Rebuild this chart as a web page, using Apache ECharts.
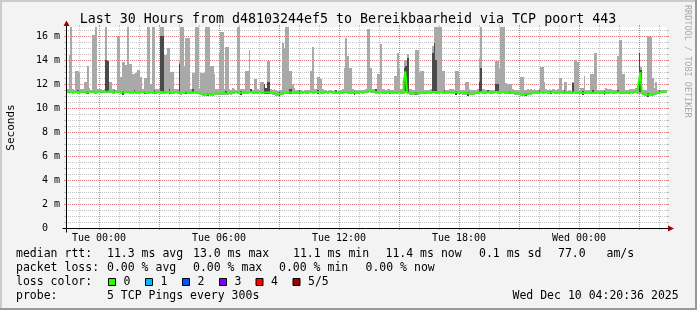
<!DOCTYPE html>
<html><head><meta charset="utf-8">
<script src="https://cdn.jsdelivr.net/npm/echarts@6/dist/echarts.min.js"></script>
<style>html,body{margin:0;padding:0;background:#f3f3f3}#c{width:697px;height:310px}</style>
</head><body><div id="c"></div><script>
// ---------------- data ----------------
const STEP = 5;          // minutes per sample (5 TCP pings every 300 s)
const T0 = -96;          // first sample, minutes relative to Tue 00:00
const SPAN = 1800;       // 30 hours
const Y_MAX = 16.75;     // ms
const titleText = 'Last 30 Hours from d48103244ef5 to Bereikbaarheid via TCP poort 443';
const xTickMinutes = [0, 360, 720, 1080, 1440];
const xTickLabels = ['Tue 00:00', 'Tue 06:00', 'Tue 12:00', 'Tue 18:00', 'Wed 00:00'];
const yTickValues = [0, 2, 4, 6, 8, 10, 12, 14, 16];

// median rtt (ms) per 5-minute sample
const medianVals = [
11.33,11.35,11.32,11.30,11.34,11.36,11.33,11.31,11.35,11.37,11.34,11.30,11.32,11.36,11.38,11.35,11.33,11.31,11.34,11.36,
11.38,11.40,11.36,11.34,11.37,11.39,11.35,11.33,11.30,11.34,11.37,11.35,11.32,11.30,11.33,11.36,11.34,11.31,11.29,11.32,
11.34,11.31,11.28,11.30,11.33,11.35,11.32,11.29,11.27,11.30,11.33,11.31,11.28,11.30,11.34,11.36,11.33,11.30,11.28,11.31,
11.33,11.35,11.32,11.29,11.31,11.34,11.30,11.27,11.25,11.28,11.31,11.33,11.30,11.27,11.29,11.32,11.34,11.31,11.28,11.24,
11.20,11.16,11.13,11.12,11.15,11.18,11.14,11.17,11.21,11.24,11.22,11.20,11.23,11.25,11.22,11.20,11.24,11.27,11.25,11.28,
11.30,11.33,11.31,11.28,11.30,11.32,11.29,11.27,11.30,11.33,11.35,11.32,11.30,11.28,11.31,11.34,11.32,11.29,11.27,11.30,
11.33,11.30,11.27,11.24,11.20,11.17,11.15,11.18,11.21,11.25,11.28,11.30,11.27,11.29,11.32,11.30,11.27,11.29,11.31,11.28,
11.30,11.32,11.34,11.31,11.29,11.33,11.35,11.32,11.30,11.33,11.36,11.34,11.31,11.29,11.32,11.34,11.31,11.33,11.35,11.32,
11.30,11.32,11.29,11.31,11.28,11.30,11.33,11.35,11.32,11.30,11.28,11.31,11.29,11.27,11.30,11.32,11.34,11.31,11.35,11.38,
11.40,11.42,11.39,11.37,11.34,11.31,11.29,11.32,11.34,11.31,11.28,11.30,11.33,11.31,11.28,11.30,11.32,11.29,11.31,11.33,
11.30,11.28,12.20,13.05,11.30,11.22,11.19,11.21,11.18,11.22,11.25,11.28,11.31,11.29,11.27,11.30,11.32,11.29,11.31,11.34,
11.37,11.33,11.30,11.32,11.35,11.33,11.30,11.28,11.31,11.33,11.30,11.32,11.34,11.31,11.29,11.26,11.28,11.25,11.23,11.22,
11.20,11.18,11.21,11.19,11.22,11.26,11.29,11.31,11.34,11.32,11.29,11.31,11.33,11.30,11.28,11.31,11.33,11.36,11.33,11.30,
11.32,11.35,11.33,11.30,11.28,11.31,11.29,11.26,11.24,11.22,11.20,11.18,11.16,11.14,11.17,11.15,11.18,11.21,11.24,11.27,
11.30,11.32,11.29,11.31,11.34,11.32,11.30,11.33,11.31,11.29,11.32,11.34,11.31,11.29,11.32,11.30,11.33,11.31,11.28,11.30,
11.32,11.29,11.27,11.30,11.33,11.31,11.28,11.30,11.27,11.25,11.28,11.30,11.27,11.29,11.26,11.28,11.31,11.29,11.27,11.30,
11.28,11.26,11.29,11.31,11.28,11.30,11.33,11.31,11.29,11.32,11.34,11.31,11.29,11.27,11.30,11.32,11.30,11.33,11.35,11.32,
11.34,11.36,11.33,12.10,13.00,11.20,11.15,11.12,11.10,11.13,11.16,11.14,11.20,11.25,11.28,11.31,11.34,11.37,11.39,11.40
];
// slowest ping (top of smoke, ms)
const maxVals = [
11.62,14.4,16.8,11.55,11.5,13.1,13.1,12.9,11.62,11.55,12.2,12.2,13.5,11.7,11.5,16.1,16.1,16.8,11.55,11.62,
11.62,11.5,11.55,16.8,14.0,12.2,12.2,11.62,11.62,11.5,16.0,16.0,12.6,13.8,13.8,13.6,16.8,13.7,13.7,12.8,
12.8,12.9,13.2,13.2,12.6,11.62,12.5,12.5,16.8,16.8,12.0,16.8,16.8,11.62,11.62,11.55,16.8,16.8,14.4,14.4,
15.0,15.0,13.0,13.0,11.62,11.55,11.62,13.9,16.8,16.8,13.5,15.8,15.8,15.8,11.62,12.9,12.9,16.8,16.8,11.62,
12.9,12.9,12.9,16.8,16.8,16.8,13.5,13.5,12.8,11.55,11.55,14.7,16.3,16.3,11.62,15.1,15.1,11.55,11.5,11.7,
11.55,11.5,16.8,16.8,11.62,11.62,11.55,13.1,13.1,14.8,11.55,11.5,12.4,12.4,11.55,11.5,12.2,12.2,11.7,11.7,
13.9,13.9,11.55,11.5,11.55,11.5,11.45,11.45,11.5,15.4,15.0,16.8,16.8,13.1,13.1,12.0,11.7,11.5,11.5,11.5,
11.5,11.45,11.5,11.5,11.5,11.5,13.1,15.1,11.62,11.55,12.6,12.6,12.4,11.62,11.5,11.5,11.45,11.5,11.5,11.45,
11.5,11.5,11.45,11.5,11.5,11.55,13.3,15.8,14.3,13.3,13.3,11.55,11.5,11.5,11.5,11.5,11.5,11.5,11.5,11.55,
16.6,16.6,13.3,11.62,11.62,11.5,12.8,12.8,15.3,11.55,11.55,11.5,11.62,11.62,11.5,11.5,12.7,12.7,14.6,13.3,
11.55,11.55,14.0,14.0,14.5,11.62,11.62,11.5,11.5,14.8,14.8,12.9,13.1,13.1,11.5,11.5,11.5,11.5,11.55,15.2,
16.8,16.8,16.8,16.8,16.8,13.1,13.1,11.5,11.5,11.55,11.55,11.55,11.5,13.1,13.1,12.4,11.5,11.5,11.5,12.2,
12.2,11.55,11.5,11.5,11.5,11.5,11.55,14.2,16.8,11.62,11.62,11.5,11.5,11.5,11.5,11.5,11.5,13.9,13.9,13.3,
16.8,16.8,16.8,12.1,12.0,12.0,12.0,11.62,11.5,11.5,11.5,11.5,12.6,12.6,11.5,11.5,11.55,11.5,11.55,11.5,
11.55,11.5,11.5,11.55,13.4,13.4,12.2,11.55,11.5,11.62,11.5,11.62,11.55,11.5,11.55,12.5,12.5,11.5,12.2,12.2,
11.45,11.5,11.45,12.2,14.0,14.0,13.8,11.5,11.7,11.7,12.7,11.5,11.5,11.5,12.8,12.8,14.6,14.6,11.5,11.5,
11.5,11.5,11.5,11.7,11.55,11.55,11.55,11.5,11.5,11.5,14.3,15.7,15.7,12.8,12.8,11.5,11.5,11.55,11.55,11.55,
11.55,11.7,11.7,14.7,13.4,11.5,11.5,11.5,16.0,16.0,15.9,12.5,11.7,12.2,11.5,11.5,11.5,11.5,11.5,11.5
];
// fastest ping (bottom of smoke, ms)
const minVals = [
11.22,11.20,11.21,11.18,11.22,11.24,11.20,11.19,11.23,11.25,11.21,11.17,11.20,11.24,11.26,11.22,11.20,11.18,11.22,11.24,
11.26,11.28,11.24,11.21,11.25,11.27,11.22,11.20,11.17,11.21,11.25,11.22,11.19,11.17,11.20,11.24,11.21,11.18,11.16,11.19,
11.22,11.18,11.15,11.17,11.21,11.23,11.19,11.16,11.14,11.17,11.21,11.18,11.15,11.17,11.22,11.24,11.20,11.17,11.15,11.18,
11.21,11.23,11.19,11.16,11.18,11.22,11.17,11.14,11.12,11.15,11.19,11.21,11.17,11.14,11.16,11.20,11.22,11.18,11.15,11.11,
11.07,11.03,11.00,10.99,11.02,11.05,11.01,11.04,11.08,11.11,11.09,11.07,11.10,11.12,11.09,11.07,11.11,11.14,11.12,11.15,
11.18,11.21,11.18,11.15,11.17,11.20,11.16,11.14,11.17,11.21,11.23,11.19,11.17,11.15,11.19,11.22,11.19,11.16,11.14,11.17,
11.21,11.17,11.14,11.11,11.07,11.04,11.02,11.05,11.08,11.12,11.15,11.18,11.14,11.16,11.20,11.17,11.14,11.16,11.19,11.15,
11.18,11.20,11.22,11.18,11.16,11.21,11.23,11.19,11.17,11.21,11.24,11.22,11.18,11.16,11.20,11.22,11.18,11.21,11.23,11.19,
11.17,11.20,11.16,11.19,11.15,11.17,11.21,11.23,11.19,11.17,11.15,11.19,11.16,11.14,11.17,11.20,11.22,11.18,11.23,11.26,
11.28,11.30,11.26,11.24,11.21,11.18,11.16,11.20,11.22,11.18,11.15,11.17,11.21,11.18,11.15,11.17,11.20,11.16,11.18,11.21,
11.17,11.15,11.20,11.25,11.17,11.09,11.06,11.08,11.05,11.09,11.12,11.15,11.19,11.16,11.14,11.17,11.20,11.16,11.18,11.22,
11.25,11.20,11.17,11.20,11.23,11.20,11.17,11.15,11.19,11.21,11.17,11.20,11.22,11.18,11.16,11.13,11.15,11.12,11.10,11.09,
11.07,11.05,11.08,11.06,11.09,11.13,11.16,11.19,11.22,11.19,11.16,11.19,11.21,11.17,11.15,11.19,11.21,11.24,11.20,11.17,
11.20,11.23,11.20,11.17,11.15,11.19,11.16,11.13,11.11,11.09,11.07,11.05,11.03,11.01,11.04,11.02,11.05,11.08,11.11,11.14,
11.18,11.20,11.16,11.19,11.22,11.19,11.17,11.21,11.18,11.16,11.20,11.22,11.18,11.16,11.20,11.17,11.21,11.18,11.15,11.18,
11.20,11.16,11.14,11.17,11.21,11.18,11.15,11.18,11.14,11.12,11.16,11.18,11.14,11.17,11.13,11.16,11.19,11.16,11.14,11.18,
11.15,11.13,11.17,11.19,11.15,11.18,11.21,11.18,11.16,11.20,11.22,11.18,11.16,11.14,11.18,11.20,11.17,11.21,11.23,11.19,
11.22,11.24,11.20,11.15,11.18,11.07,11.02,10.99,10.97,11.00,11.03,11.01,11.07,11.12,11.15,11.19,11.22,11.25,11.27,11.28
];
// inner (2nd..4th ping) smoke where it shows: sample index, bottom, top (ms)
const darkCols = [6,12,23,24,28,33,40,46,52,56,57,61,67,71,75,84,95,104,110,118,119,120,121,127,133,134,139,150,161,172,185,193,202,203,204,209,219,220,221,226,233,240,247,248,252,257,258,265,275,283,290,298,303,309,315,322,330,337,343,344,348,355];
const darkLow  = [11.25,11.15,11.30,11.30,11.28,11.12,11.25,11.15,11.20,11.30,11.30,11.20,11.25,11.15,11.25,10.98,11.15,11.12,11.25,11.20,11.20,11.20,11.20,11.00,11.20,11.20,11.20,11.20,11.25,11.12,11.25,11.15,11.40,11.40,11.25,11.05,11.30,11.30,11.30,11.22,11.12,11.04,11.28,11.28,11.25,11.30,11.30,11.15,10.98,11.25,11.15,11.22,11.25,11.10,11.22,11.12,11.25,11.18,11.30,11.30,10.95,11.25];
const darkHigh = [11.52,11.45,14.0,13.9,11.52,11.42,11.50,11.45,11.50,16.0,16.0,11.55,13.7,11.45,11.55,11.28,11.45,11.42,11.55,12.0,11.7,12.2,12.2,11.30,11.6,11.6,11.48,11.48,11.50,11.40,11.55,11.43,13.3,13.5,14.2,11.35,14.6,15.4,14.0,11.50,11.42,11.32,12.2,13.3,11.48,12.0,12.0,11.43,11.27,11.52,11.44,11.48,12.1,11.38,11.48,11.41,11.50,11.45,14.6,13.2,11.22,11.48];

// legend texts
const rttLabel = 'median rtt:';
const rttStats = ['11.3 ms avg', '13.0 ms max', '11.1 ms min', '11.4 ms now', '0.1 ms sd', '77.0', 'am/s'];
const lossLabel = 'packet loss:';
const lossStats = ['0.00 % avg', '0.00 % max', '0.00 % min', '0.00 % now'];
const lossColorLabel = 'loss color:';
const lossNames = ['0', '1', '2', '3', '4', '5/5'];
const lossColors = ['#26ff00', '#00b8ff', '#0059ff', '#7e00ff', '#ff0000', '#a10000'];
const probeLabel = 'probe:';
const probeText = '5 TCP Pings every 300s';
const stampText = 'Wed Dec 10 04:20:36 2025';

// ---------------- chart ----------------
const FONT = '"DejaVu Sans Mono", monospace';
const LIGHT = '#a9a9a9', DARK = '#4a4a4a', GREEN = '#26ff00';
const MINOR = '#c2c2c2', MAJOR = '#e07f7f';

const smokeData = maxVals.map((m, i) => [T0 + i * STEP, minVals[i], m]);
const darkData = darkCols.map((c, k) => [T0 + c * STEP, darkLow[k], darkHigh[k]]);
const medianData = medianVals.map((v, i) => [T0 + i * STEP, v]);
medianData.push([T0 + medianVals.length * STEP, medianVals[medianVals.length - 1]]);

function barRenderer(fill) {
  return function (params, api) {
    const t = api.value(0), lo = api.value(1), hi = Math.min(api.value(2), Y_MAX);
    const p0 = api.coord([t, lo]), p1 = api.coord([t + STEP, hi]);
    const x0 = Math.round(p0[0]), x1 = Math.round(p1[0]);
    const y0 = Math.round(p0[1]), y1 = Math.round(p1[1]);
    return { type: 'rect', shape: { x: x0, y: y1, width: Math.max(1, x1 - x0), height: Math.max(1, y0 - y1) }, style: { fill: fill } };
  };
}
function txt(s, x, y, size, extra) {
  const el = { type: 'text', x: x, y: y, silent: true, z: 5,
    style: { text: s, font: size + 'px ' + FONT, fill: '#000', align: 'left', verticalAlign: 'middle' } };
  if (extra) { Object.assign(el.style, extra.style || {}); if (extra.rotation !== undefined) el.rotation = extra.rotation; }
  return el;
}
// 1-on / 1-off dotted pattern tiles
function dots(color, vertical) {
  const c = document.createElement('canvas');
  c.width = vertical ? 1 : 2; c.height = vertical ? 2 : 1;
  const g = c.getContext('2d'); g.fillStyle = color; g.fillRect(0, 0, 1, 1);
  return { image: c, repeat: 'repeat' };
}

const chart = echarts.init(document.getElementById('c'), null, { renderer: 'canvas' });
chart.setOption({
  animation: false,
  backgroundColor: '#f3f3f3',
  grid: { left: 67, top: 27, width: 600, height: 201, show: false },
  xAxis: {
    type: 'value', min: T0, max: T0 + SPAN,
    axisLine: { show: false }, axisTick: { show: false }, splitLine: { show: false },
    axisLabel: { customValues: xTickMinutes, formatter: v => xTickLabels[xTickMinutes.indexOf(v)] || '',
      fontFamily: FONT, fontSize: 10, color: '#000', margin: 5 }
  },
  yAxis: {
    type: 'value', min: 0, max: Y_MAX,
    axisLine: { show: false }, axisTick: { show: false }, splitLine: { show: false },
    axisLabel: { customValues: yTickValues, formatter: v => (v === 0 ? '0  ' : v + ' m'),
      fontFamily: FONT, fontSize: 10, color: '#000', margin: 7 }
  },
  series: [
    { type: 'custom', name: 'smoke', data: smokeData, renderItem: barRenderer(LIGHT), silent: true, z: 2 },
    { type: 'custom', name: 'inner', data: darkData, renderItem: barRenderer(DARK), silent: true, z: 3 },
    { type: 'line', name: 'median rtt', data: medianData, step: 'end', showSymbol: false, silent: true, z: 4,
      lineStyle: { color: GREEN, width: 2 } }
  ]
});

// ---- decorations placed through the chart's own axis scales ----
const xAx = chart.getModel().getComponent('xAxis', 0).axis;
const yAx = chart.getModel().getComponent('yAxis', 0).axis;
const px = v => xAx.toGlobalCoord(xAx.dataToCoord(v));
const py = v => yAx.toGlobalCoord(yAx.dataToCoord(v));
const L = Math.round(px(T0)), R = Math.round(px(T0 + SPAN)), B = Math.round(py(0)), T = Math.round(py(Y_MAX));
const G = [];
G.push({ type: 'rect', shape: { x: L, y: T, width: R - L, height: B - T }, style: { fill: '#ffffff' }, silent: true, z: 0, z2: 0 });
const vMinor = dots(MINOR, true), vMajor = dots(MAJOR, true), hMinor = dots(MINOR, false), hMajor = dots(MAJOR, false);
// vertical grid: every hour, major (red) every 3 hours
for (let h = -1; h <= 28; h++) {
  const major = ((h % 3) + 3) % 3 === 0;
  const x = Math.floor(px(h * 60));
  const col = major ? MAJOR : MINOR;
  G.push({ type: 'rect', shape: { x: x, y: T, width: 1, height: B - T }, style: { fill: major ? vMajor : vMinor }, silent: true, z: 0, z2: 1 });
  G.push({ type: 'rect', shape: { x: x, y: B, width: 1, height: 2 }, style: { fill: col }, silent: true, z: 0, z2: 1 });
  G.push({ type: 'rect', shape: { x: x, y: T - 2, width: 1, height: 2 }, style: { fill: col }, silent: true, z: 0, z2: 1 });
}
// horizontal grid: every 0.5 ms, major (red) every 2 ms
for (let k = 1; k * 0.5 < Y_MAX; k++) {
  const major = k % 4 === 0;
  const y = Math.floor(py(k * 0.5));
  const col = major ? MAJOR : MINOR;
  G.push({ type: 'rect', shape: { x: L, y: y, width: R - L, height: 1 }, style: { fill: major ? hMajor : hMinor }, silent: true, z: 0, z2: 1 });
  G.push({ type: 'rect', shape: { x: L - 3, y: y, width: 3, height: 1 }, style: { fill: col }, silent: true, z: 0, z2: 1 });
  G.push({ type: 'rect', shape: { x: R, y: y, width: 2, height: 1 }, style: { fill: col }, silent: true, z: 0, z2: 1 });
}
// axes with arrows
const ax = L - 0.5, ay = B + 0.5;
G.push({ type: 'line', shape: { x1: ax - 4, y1: ay, x2: R + 2, y2: ay }, style: { stroke: '#000', lineWidth: 1 }, silent: true, z: 10 });
G.push({ type: 'line', shape: { x1: ax, y1: ay + 4, x2: ax, y2: T - 2 }, style: { stroke: '#000', lineWidth: 1 }, silent: true, z: 10 });
G.push({ type: 'polygon', shape: { points: [[R + 1, ay - 3], [R + 7, ay], [R + 1, ay + 3]] }, style: { fill: '#a00000' }, silent: true, z: 10 });
G.push({ type: 'polygon', shape: { points: [[ax - 3, T - 1], [ax, T - 6.5], [ax + 3, T - 1]] }, style: { fill: '#a00000' }, silent: true, z: 10 });
// frame
G.push({ type: 'rect', shape: { x: 0, y: 0, width: 697, height: 2 }, style: { fill: '#cbcbcb' }, silent: true, z: 5 });
G.push({ type: 'rect', shape: { x: 0, y: 0, width: 2, height: 310 }, style: { fill: '#cbcbcb' }, silent: true, z: 5 });
G.push({ type: 'rect', shape: { x: 0, y: 308, width: 697, height: 2 }, style: { fill: '#999999' }, silent: true, z: 5 });
G.push({ type: 'rect', shape: { x: 695, y: 0, width: 2, height: 310 }, style: { fill: '#999999' }, silent: true, z: 5 });
// texts
G.push(txt(titleText, 348, 19.3, 13.3, { style: { align: 'center' } }));
G.push(txt('Seconds', 11, 127.5, 11, { rotation: Math.PI / 2, style: { align: 'center' } }));
G.push(txt('RRDTOOL / TOBI OETIKER', 687.5, 5, 8.5, { rotation: -Math.PI / 2, style: { fill: '#aaaaaa' } }));
const LS = 11.5;
const rowY = [254.3, 268.3, 282.3, 296.3];
G.push(txt(rttLabel, 16, rowY[0], LS));
[107, 193, 293, 385.5, 479, 558, 606.5].forEach((x, i) => G.push(txt(rttStats[i], x, rowY[0], LS)));
G.push(txt(lossLabel, 16, rowY[1], LS));
[107, 193, 279, 365.5].forEach((x, i) => G.push(txt(lossStats[i], x, rowY[1], LS)));
G.push(txt(lossColorLabel, 16, rowY[2], LS));
[108.5, 145.5, 182.5, 219.5, 256, 293].forEach((x, i) => {
  G.push({ type: 'rect', shape: { x: x, y: 278.5, width: 7, height: 7 }, style: { fill: lossColors[i], stroke: '#000', lineWidth: 1 }, silent: true, z: 5 });
  G.push(txt(lossNames[i], x + 15, rowY[2], LS));
});
G.push(txt(probeLabel, 16, rowY[3], LS));
G.push(txt(probeText, 107, rowY[3], LS));
G.push(txt(stampText, 512.5, rowY[3], LS));

chart.setOption({ graphic: G });
</script></body></html>
